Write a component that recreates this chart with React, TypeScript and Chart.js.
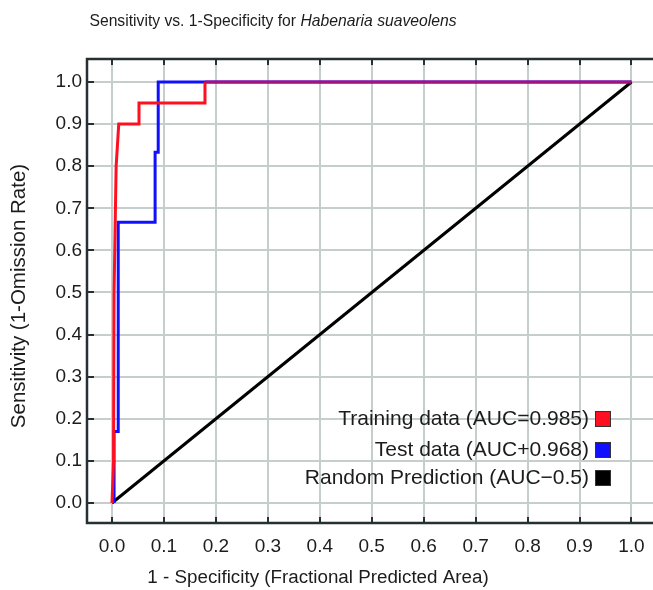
import React, { useEffect, useRef } from "react";
import { Chart, registerables } from "chart.js";

Chart.register(...registerables);

// ---- data ----
const trainingX = [0, 0.003, 0.004, 0.006, 0.008, 0.013, 0.052, 0.052, 0.179, 0.179, 1.0];
const trainingY = [0, 0.1, 0.5, 0.65, 0.8, 0.9, 0.9, 0.95, 0.95, 1.0, 1.0];

const testX = [0.004, 0.004, 0.012, 0.012, 0.083, 0.083, 0.089, 0.089, 1.0];
const testY = [0, 0.17, 0.17, 0.667, 0.667, 0.833, 0.833, 1.0, 1.0];

const randomX = [0, 1];
const randomY = [0, 1];

const xTicks = [0, 0.1, 0.2, 0.3, 0.4, 0.5, 0.6, 0.7, 0.8, 0.9, 1.0];
const yTicks = [0, 0.1, 0.2, 0.3, 0.4, 0.5, 0.6, 0.7, 0.8, 0.9, 1.0];

const legendLabels = [
  "Training data (AUC=0.985)",
  "Test data (AUC+0.968)",
  "Random Prediction (AUC\u22120.5)",
];
const legendColors = ["#ff1020", "#1010ff", "#000000"];

const titleNormal = "Sensitivity vs. 1-Specificity for ";
const titleItalic = "Habenaria suaveolens";
const xTitle = "1 - Specificity (Fractional Predicted Area)";
const yTitle = "Sensitivity (1-Omission Rate)";

const FONT = "'Liberation Sans', Arial, Helvetica, sans-serif";
const TEXT = "#1c1c1c";
const BORDER = "#263030";

const toPts = (xs: number[], ys: number[]) => xs.map((x, i) => ({ x, y: ys[i] }));

const decorPlugin = {
  id: "decor",
  afterDraw(chart: any) {
    const { ctx, chartArea } = chart;
    const xs = chart.scales.x;
    const ys = chart.scales.y;
    ctx.save();

    // border
    ctx.strokeStyle = BORDER;
    ctx.lineWidth = 2.5;
    ctx.beginPath();
    ctx.moveTo(chartArea.right + 5, chartArea.top);
    ctx.lineTo(chartArea.left, chartArea.top);
    ctx.lineTo(chartArea.left, chartArea.bottom);
    ctx.lineTo(chartArea.right + 5, chartArea.bottom);
    ctx.stroke();

    // inward ticks
    ctx.lineWidth = 2;
    ctx.beginPath();
    xTicks.forEach((v) => {
      const px = Math.round(xs.getPixelForValue(v));
      ctx.moveTo(px, chartArea.bottom);
      ctx.lineTo(px, chartArea.bottom - 6);
      ctx.moveTo(px, chartArea.top);
      ctx.lineTo(px, chartArea.top + 6);
    });
    yTicks.forEach((v) => {
      const py = Math.round(ys.getPixelForValue(v));
      ctx.moveTo(chartArea.left, py);
      ctx.lineTo(chartArea.left + 7, py);
    });
    ctx.stroke();

    // title
    ctx.fillStyle = TEXT;
    ctx.textBaseline = "middle";
    ctx.textAlign = "left";
    const tf = 15.7;
    ctx.font = `${tf}px ${FONT}`;
    const w1 = ctx.measureText(titleNormal).width;
    ctx.font = `italic ${tf}px ${FONT}`;
    const w2 = ctx.measureText(titleItalic).width;
    const startX = 273 - (w1 + w2) / 2;
    ctx.font = `${tf}px ${FONT}`;
    ctx.fillText(titleNormal, startX, 22);
    ctx.font = `italic ${tf}px ${FONT}`;
    ctx.fillText(titleItalic, startX + w1, 22);

    // x title
    ctx.font = `18.8px ${FONT}`;
    ctx.textAlign = "center";
    ctx.fillText(xTitle, 318, 578);

    // y title
    ctx.save();
    ctx.translate(19, 296);
    ctx.rotate(-Math.PI / 2);
    ctx.font = `20.5px ${FONT}`;
    ctx.fillText(yTitle, 0, 0);
    ctx.restore();

    // legend
    const rowsY = [419, 450, 478];
    ctx.font = `21px ${FONT}`;
    ctx.textAlign = "right";
    legendLabels.forEach((lab, i) => {
      const cy = rowsY[i];
      ctx.fillStyle = TEXT;
      ctx.fillText(lab, 589, cy);
      ctx.fillStyle = legendColors[i];
      ctx.fillRect(595, cy - 8, 16, 16);
      ctx.strokeStyle = "#333";
      ctx.lineWidth = 1;
      ctx.strokeRect(595.5, cy - 7.5, 15, 15);
    });

    ctx.restore();
  },
};

export default function App() {
  const ref = useRef<HTMLCanvasElement | null>(null);

  useEffect(() => {
    if (!ref.current) return;
    const chart = new Chart(ref.current, {
      type: "scatter",
      data: {
        datasets: [
          {
            label: legendLabels[0],
            data: toPts(trainingX, trainingY),
            showLine: true,
            borderColor: legendColors[0],
            borderWidth: 3,
            pointRadius: 0,
            fill: false,
            segment: {
              borderColor: (c: any) =>
                c.p0.parsed.y === 1 && c.p1.parsed.y === 1 ? "#a8107c" : undefined,
            },
          },
          {
            label: legendLabels[1],
            data: toPts(testX, testY),
            showLine: true,
            borderColor: legendColors[1],
            borderWidth: 3,
            pointRadius: 0,
            fill: false,
          },
          {
            label: legendLabels[2],
            data: toPts(randomX, randomY),
            showLine: true,
            borderColor: legendColors[2],
            borderWidth: 3,
            pointRadius: 0,
            fill: false,
          },
        ],
      },
      options: {
        responsive: false,
        animation: false,
        devicePixelRatio: 1,
        layout: { padding: { left: 0, top: 59, right: 0, bottom: 0 } },
        plugins: {
          legend: { display: false },
          title: { display: false },
          tooltip: { enabled: false },
        },
        scales: {
          x: {
            type: "linear",
            min: -0.0481,
            max: 1.0549,
            afterBuildTicks: (axis: any) => {
              axis.ticks = xTicks.map((v) => ({ value: v }));
            },
            afterFit: (scale: any) => {
              scale.height = 67;
            },
            border: { display: false },
            grid: { color: "#c6cdcd", lineWidth: 2, drawTicks: false },
            ticks: {
              padding: 12,
              color: TEXT,
              font: { family: FONT, size: 19 },
              callback: (v: any) => Number(v).toFixed(1),
            },
          },
          y: {
            type: "linear",
            min: -0.0475,
            max: 1.0546,
            afterBuildTicks: (axis: any) => {
              axis.ticks = yTicks.map((v) => ({ value: v }));
            },
            afterFit: (scale: any) => {
              scale.width = 87;
            },
            border: { display: false },
            grid: { color: "#c6cdcd", lineWidth: 2, drawTicks: false },
            ticks: {
              padding: 5,
              color: TEXT,
              font: { family: FONT, size: 19 },
              callback: (v: any) => Number(v).toFixed(1),
            },
          },
        },
      },
      plugins: [decorPlugin],
    } as any);
    return () => chart.destroy();
  }, []);

  return (
    <div
      style={{
        position: "absolute",
        left: 0,
        top: 0,
        width: 653,
        height: 590,
        overflow: "hidden",
        background: "#fff",
      }}
    >
      <canvas ref={ref} width={660} height={590} style={{ display: "block" }} />
    </div>
  );
}
